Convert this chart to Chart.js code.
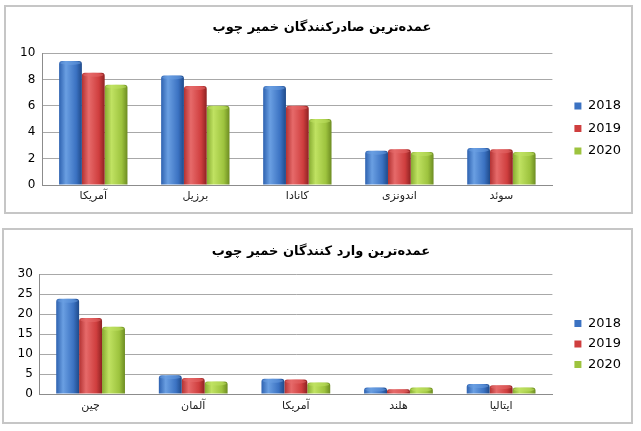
<!DOCTYPE html>
<html>
<head>
<meta charset="utf-8">
<script src="https://cdn.jsdelivr.net/npm/chart.js@4"></script>
<style>
body { margin: 0; background: #fff; }
.box { position: absolute; border: 2px solid #c6c6c6; box-sizing: border-box; background: #fff; }
#b1 { left: 4px; top: 5px; width: 629px; height: 209px; }
#b2 { left: 2px; top: 228px; width: 631px; height: 196px; }
canvas { display: block; }
</style>
</head>
<body>
<div class="box" id="b1"><canvas id="c1" width="625" height="205"></canvas></div>
<div class="box" id="b2"><canvas id="c2" width="627" height="192"></canvas></div>
<script>
const years = ['2018', '2019', '2020'];

const exportTitle = 'عمده‌ترین صادرکنندگان خمیر چوب';
const exportCountries = ['آمریکا', 'برزیل', 'کانادا', 'اندونزی', 'سوئد'];
const export2018 = [9.4, 8.3, 7.5, 2.6, 2.8];
const export2019 = [8.5, 7.5, 6.0, 2.7, 2.7];
const export2020 = [7.6, 6.0, 5.0, 2.5, 2.5];

const importTitle = 'عمده‌ترین وارد کنندگان خمیر چوب';
const importCountries = ['چین', 'آلمان', 'آمریکا', 'هلند', 'ایتالیا'];
const import2018 = [23.8, 4.7, 3.8, 1.6, 2.5];
const import2019 = [19.0, 4.0, 3.6, 1.2, 2.2];
const import2020 = [16.8, 3.1, 2.9, 1.6, 1.6];

const baseColors = ['#3b72c2', '#cf3e3e', '#9dc33e'];
const shades = [
	['#2e62b0', '#6a9fe2', '#3b72c2', '#1f4a8a'],
	['#b33232', '#e66a6a', '#cf3e3e', '#8e2222'],
	['#86ab30', '#c0e262', '#9dc33e', '#6d8c22']
];
const font = 'DejaVu Sans';

// horizontal shading on each bar plus a light top cap, like the office 3d look
const gradientBars = {
	id: 'gradientBars',
	beforeDatasetsDraw(chart) {
		const ctx = chart.ctx;
		chart.data.datasets.forEach(function(ds, i) {
			const s = shades[i];
			chart.getDatasetMeta(i).data.forEach(function(bar) {
				const p = bar.getProps(['x', 'width'], true);
				const g = ctx.createLinearGradient(p.x - p.width / 2, 0, p.x + p.width / 2, 0);
				g.addColorStop(0, s[0]);
				g.addColorStop(0.3, s[1]);
				g.addColorStop(0.75, s[2]);
				g.addColorStop(1, s[3]);
				bar.options = Object.assign({}, bar.options, { backgroundColor: g });
			});
		});
	},
	afterDatasetsDraw(chart) {
		const ctx = chart.ctx;
		ctx.save();
		chart.data.datasets.forEach(function(ds, i) {
			ctx.fillStyle = shades[i][1];
			ctx.globalAlpha = 0.55;
			chart.getDatasetMeta(i).data.forEach(function(bar) {
				const p = bar.getProps(['x', 'y', 'width', 'base'], true);
				const h = Math.min(4, p.base - p.y);
				ctx.beginPath();
				ctx.ellipse(p.x, p.y + h / 2, p.width / 2 - 1, h / 2, 0, 0, Math.PI * 2);
				ctx.fill();
			});
		});
		ctx.restore();
	}
};

function plot(elementId, title, labels, series, max, step, cfg) {
	const ctx = document.getElementById(elementId).getContext('2d');
	return new Chart(ctx, {
		type: 'bar',
		data: {
			labels: labels,
			datasets: series.map(function(data, i) {
				return {
					label: years[i],
					data: data,
					backgroundColor: baseColors[i],
					borderWidth: 0,
					borderRadius: { topLeft: 3, topRight: 3 },
					borderSkipped: 'bottom',
					categoryPercentage: 0.67,
					barPercentage: 1.0
				};
			})
		},
		options: {
			responsive: false,
			animation: false,
			layout: { padding: { left: cfg.padLeft, right: 0, top: 0, bottom: cfg.padBottom } },
			plugins: {
				title: {
					display: true,
					text: title,
					color: '#000',
					font: { family: font, size: 13, weight: 'bold' },
					padding: { top: cfg.titleTop, bottom: cfg.titleBottom }
				},
				legend: {
					position: 'right',
					title: { display: true, text: ' ', padding: { top: cfg.legendShift, bottom: 0 } },
					labels: {
						boxWidth: 7,
						boxHeight: 7,
						padding: cfg.legendPad,
						color: '#000',
						font: { family: font, size: 13 }
					}
				},
				tooltip: { enabled: false }
			},
			scales: {
				x: {
					grid: { display: false, drawTicks: false },
					border: { display: true, color: '#8c8c8c' },
					ticks: { color: '#222', padding: cfg.xPad, font: { family: font, size: 11 } }
				},
				y: {
					min: 0,
					max: max,
					ticks: { stepSize: step, color: '#000', padding: cfg.tickPad, font: { family: font, size: 12 } },
					grid: { color: '#a8a8a8', drawTicks: false },
					border: { display: true, color: '#8c8c8c' }
				},
				gap: {
					position: 'right',
					display: true,
					grid: { display: false, drawTicks: false },
					border: { display: false },
					ticks: { display: false },
					afterFit: function(scale) { scale.width = cfg.gap; }
				}
			}
		},
		plugins: [gradientBars]
	});
}

plot('c1', exportTitle, exportCountries, [export2018, export2019, export2020], 10, 2,
	{ padLeft: 7, padBottom: 5.4, titleTop: 13.2, titleBottom: 17.2, legendShift: 28.8, legendPad: 9.5, tickPad: 7, xPad: 4.2, gap: 12.5 });
plot('c2', importTitle, importCountries, [import2018, import2019, import2020], 30, 5,
	{ padLeft: 7, padBottom: 4.4, titleTop: 14.2, titleBottom: 14.2, legendShift: 25.8, legendPad: 7.5, tickPad: 6.5, xPad: 5.2, gap: 14.5 });
</script>
</body>
</html>
